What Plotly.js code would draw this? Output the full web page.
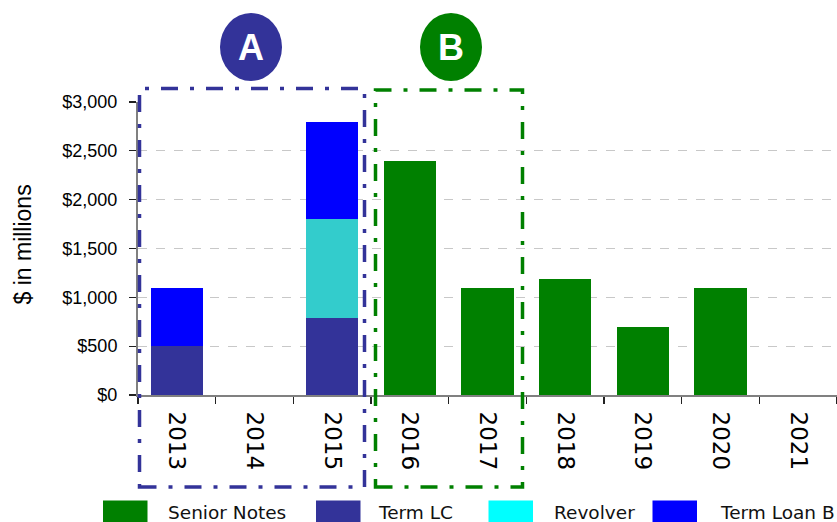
<!DOCTYPE html>
<html>
<head>
<meta charset="utf-8">
<script src="https://cdn.plot.ly/plotly-3.0.1.min.js"></script>
<style>
  html, body { margin: 0; padding: 0; background: #ffffff; }
  #chart { width: 837px; height: 522px; }
</style>
</head>
<body>
<div id="chart"></div>
<script>
// Debt maturities by year ($ in millions)
const years = ['2013', '2014', '2015', '2016', '2017', '2018', '2019', '2020', '2021'];
const seniorNotes = [0, 0, 0, 2400, 1100, 1190, 700, 1100, 0];
const termLC      = [500, 0, 790, 0, 0, 0, 0, 0, 0];
const revolver    = [0, 0, 1010, 0, 0, 0, 0, 0, 0];
const termLoanB   = [600, 0, 1000, 0, 0, 0, 0, 0, 0];
const yTickVals   = [0, 500, 1000, 1500, 2000, 2500, 3000];
const yTickText   = ['$0', '$500', '$1,000', '$1,500', '$2,000', '$2,500', '$3,000'];
const seriesNames = ['Senior Notes', 'Term LC', 'Revolver', 'Term Loan B'];
const groupLabels = ['A', 'B'];

const colors = {
  senior: '#008000',
  termLC: '#333399',
  revolverBar: '#33CCCC',
  revolverKey: '#00FFFF',
  termLoanB: '#0000FF'
};

// plot area geometry in pixels
const W = 837, H = 522;
const L = 138, R = 0, T = 102, B = 127;
const plotW = W - L - R, plotH = H - T - B;
const px = x => (x - L) / plotW;
const py = y => (H - B - y) / plotH;

function barTrace(name, values, color) {
  return {
    type: 'bar', name: name, x: years, y: values,
    marker: { color: color, line: { width: 0 } },
    showlegend: false, hoverinfo: 'skip'
  };
}

const traces = [
  barTrace(seriesNames[0], seniorNotes, colors.senior),
  barTrace(seriesNames[1], termLC, colors.termLC),
  barTrace(seriesNames[2], revolver, colors.revolverBar),
  barTrace(seriesNames[3], termLoanB, colors.termLoanB)
];

const shapes = [];
const annotations = [];

// dash-dot group boxes
const dashDot = '17px,12px,4px,12px';
shapes.push({
  type: 'rect', xref: 'paper', yref: 'paper', layer: 'above',
  x0: px(139.5), x1: px(364.5), y0: py(487), y1: py(88.5),
  line: { color: colors.termLC, width: 3.5, dash: dashDot }, fillcolor: 'rgba(0,0,0,0)'
});
shapes.push({
  type: 'rect', xref: 'paper', yref: 'paper', layer: 'above',
  x0: px(375.5), x1: px(522.5), y0: py(487), y1: py(90),
  line: { color: colors.senior, width: 3.5, dash: dashDot }, fillcolor: 'rgba(0,0,0,0)'
});

// group badges
const badges = [
  { cx: 251, color: colors.termLC, label: groupLabels[0] },
  { cx: 451, color: colors.senior, label: groupLabels[1] }
];
badges.forEach(b => {
  shapes.push({
    type: 'circle', xref: 'paper', yref: 'paper', layer: 'above',
    x0: px(b.cx - 31), x1: px(b.cx + 31), y0: py(81), y1: py(13),
    fillcolor: b.color, line: { width: 0 }
  });
  annotations.push({
    xref: 'paper', yref: 'paper', x: px(b.cx), y: py(48),
    xanchor: 'center', yanchor: 'middle', showarrow: false,
    text: b.label,
    font: { family: 'Liberation Sans, Arial, sans-serif', size: 36, color: '#ffffff', weight: 'bold' }
  });
});

// y-axis title
annotations.push({
  xref: 'paper', yref: 'paper', x: px(22.5), y: py(245),
  xanchor: 'center', yanchor: 'middle', showarrow: false, textangle: -90,
  text: '$ in millions',
  font: { family: 'Liberation Sans, Arial, sans-serif', size: 23, color: '#000000' }
});

// legend row
const keyColors = [colors.senior, colors.termLC, colors.revolverKey, colors.termLoanB];
const keyX = [103, 316, 488.5, 652.5];
const textX = [166, 376, 551.5, 717.5];
seriesNames.forEach((name, i) => {
  shapes.push({
    type: 'rect', xref: 'paper', yref: 'paper',
    x0: px(keyX[i]), x1: px(keyX[i] + 44.5), y0: py(524), y1: py(500.5),
    fillcolor: keyColors[i], line: { width: 0 }
  });
  annotations.push({
    xref: 'paper', yref: 'paper', x: px(textX[i]), y: py(512),
    xanchor: 'left', yanchor: 'middle', showarrow: false,
    text: name,
    font: { family: 'DejaVu Sans, Verdana, sans-serif', size: 18.5, color: '#111111' }
  });
});

const layout = {
  width: W, height: H,
  margin: { l: L, r: R, t: T, b: B, pad: 0 },
  paper_bgcolor: '#ffffff', plot_bgcolor: '#ffffff',
  barmode: 'stack', bargap: 0.33,
  showlegend: false, hovermode: false,
  xaxis: {
    type: 'category', tickson: 'boundaries',
    ticks: 'outside', ticklen: 7, tickwidth: 1.2, tickcolor: '#222222',
    tickangle: 90, ticklabelstandoff: 10,
    tickfont: { family: 'DejaVu Sans, Verdana, sans-serif', size: 23, color: '#000000' },
    showline: true, linecolor: '#808080', linewidth: 2,
    showgrid: false, zeroline: false, fixedrange: true
  },
  yaxis: {
    range: [0, 3000], tickmode: 'array', tickvals: yTickVals, ticktext: yTickText,
    ticks: 'outside', ticklen: 7, tickwidth: 1.2, tickcolor: '#222222',
    ticklabelstandoff: 8,
    tickfont: { family: 'Liberation Sans, Arial, sans-serif', size: 18, color: '#000000' },
    showline: true, linecolor: '#808080', linewidth: 2,
    showgrid: true, gridcolor: '#c8c8c8', griddash: 'dash', gridwidth: 1.2,
    zeroline: false, fixedrange: true
  },
  shapes: shapes,
  annotations: annotations
};

Plotly.newPlot('chart', traces, layout, { displayModeBar: false, staticPlot: true });
</script>
</body>
</html>
